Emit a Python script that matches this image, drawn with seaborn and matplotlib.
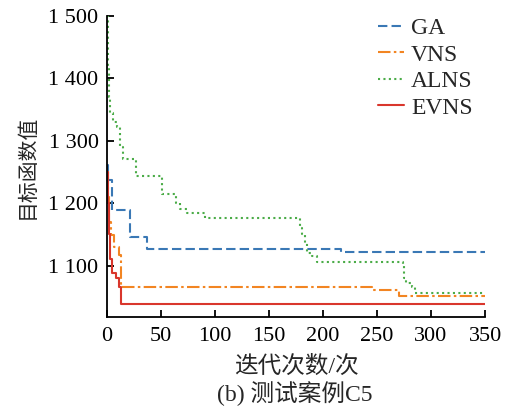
import numpy as np
import pandas as pd
import matplotlib
matplotlib.use("Agg")
import matplotlib.pyplot as plt
import matplotlib.ticker as mticker
import seaborn as sns

# convergence curves (iteration, objective value)
ga_x = [0, 1, 5, 21, 37, 217, 287, 350]
ga_y = [1261, 1237, 1189, 1146, 1127, 1122, 1121, 1121]

vns_x = [0, 1, 2, 4, 7, 11, 13, 245, 270, 350]
vns_y = [1250, 1210, 1170, 1149, 1130, 1117, 1065, 1061, 1052, 1052]

alns_x = [0, 1, 2, 3, 6, 9, 12, 15, 27, 51, 64, 68, 74, 91, 179, 181, 183,
          185, 190, 194, 274, 275, 277, 282, 285, 350]
alns_y = [1500, 1420, 1370, 1344, 1330, 1322, 1290, 1271, 1243, 1215, 1200,
          1190, 1184, 1176, 1160, 1150, 1136, 1120, 1115, 1106, 1100, 1080,
          1072, 1066, 1056, 1056]

evns_x = [0, 1, 2, 3, 5, 8, 11, 13, 350]
evns_y = [1250, 1200, 1150, 1110, 1088, 1080, 1066, 1038, 1038]

series = ["GA", "VNS", "ALNS", "EVNS"]
colors = ["#3a78b5", "#f28522", "#4bac48", "#d9362c"]
styles = [(0, (4.5, 2)), (0, (6, 1.6, 1.2, 1.6)), (0, (1, 1.6)), "-"]

sns.set_style("ticks")
plt.rcParams["font.family"] = ["Liberation Serif", "Noto Sans CJK SC"]
plt.rcParams["xtick.direction"] = "in"
plt.rcParams["ytick.direction"] = "in"

fig = plt.figure(figsize=(5.09, 4.09), dpi=100)
ax = fig.add_axes([0.210, 0.224, 0.743, 0.738])

data = {"GA": (ga_x, ga_y), "VNS": (vns_x, vns_y),
        "ALNS": (alns_x, alns_y), "EVNS": (evns_x, evns_y)}
for name, c, ls in zip(series, colors, styles):
    xs, ys = data[name]
    df = pd.DataFrame({"iter": xs, "value": ys})
    sns.lineplot(data=df, x="iter", y="value", ax=ax, color=c, linestyle=ls,
                 linewidth=1.5, drawstyle="steps-post", label=name,
                 estimator=None, sort=False)

ax.set_xlim(0, 350)
ax.set_ylim(1017, 1500)
ax.set_xticks(np.arange(0, 351, 50))
ax.set_yticks([1100, 1200, 1300, 1400, 1500])
ax.yaxis.set_major_formatter(
    mticker.FuncFormatter(lambda v, p: "{:,}".format(int(v)).replace(",", " ")))
ax.tick_params(labelsize=16, length=5, width=1.3, colors="black", pad=6)
ax.tick_params(axis="x", pad=7)
for s in ["left", "bottom"]:
    ax.spines[s].set_linewidth(1.3)
    ax.spines[s].set_color("black")
sns.despine(ax=ax)

ax.set_xlabel("迭代次数/次", fontsize=17, labelpad=7)
ax.set_ylabel("目标函数值", fontsize=15, labelpad=8)
fig.text(0.580, 0.037, "(b) 测试案例C5", fontsize=17, ha="center", va="center")

ax.legend(loc="upper right", bbox_to_anchor=(1.005, 1.04), frameon=False,
          fontsize=17, handlelength=1.1, handletextpad=0.3,
          labelspacing=0.21, borderaxespad=0.2)

fig.savefig("out.png", dpi=100)
